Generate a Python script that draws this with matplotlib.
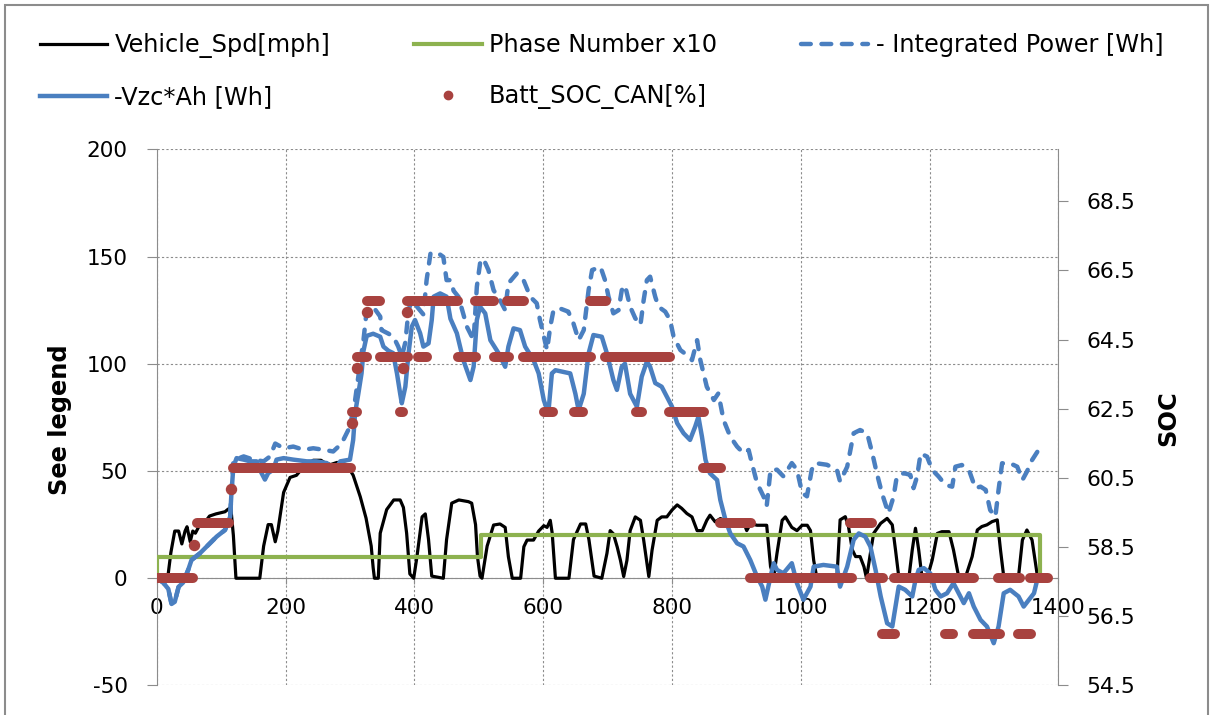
import matplotlib
matplotlib.use('Agg')
import matplotlib.pyplot as plt
from matplotlib.lines import Line2D
from matplotlib.patches import Rectangle

# Vehicle_Spd[mph]
spd_t = [0, 17, 22, 28, 34, 39, 44, 47, 52, 56, 60, 67, 77, 82, 92, 106, 110, 115, 119, 123,
         160, 166, 173, 178, 184, 188, 197, 207, 217, 228, 243, 255, 260, 270, 280, 295, 305,
         316, 325, 333, 336, 338, 344, 347, 357, 368, 378, 383, 388, 393, 399, 404, 412, 417,
         422, 427, 445, 450, 458, 469, 484, 489, 495, 498, 502, 505, 513, 523, 533, 541, 546,
         552, 565, 570, 575, 585, 593, 601, 606, 611, 614, 619, 640, 647, 658, 666, 671, 679,
         691, 699, 704, 709, 715, 720, 725, 730, 735, 743, 751, 756, 764, 769, 777, 784, 792,
         800, 808, 815, 823, 831, 839, 847, 854, 859, 867, 875, 883, 891, 901, 911, 916, 922,
         932, 947, 953, 958, 963, 971, 976, 986, 994, 1002, 1010, 1015, 1020, 1025, 1056, 1061,
         1069, 1074, 1080, 1085, 1092, 1098, 1102, 1108, 1113, 1124, 1134, 1142, 1147, 1152,
         1168, 1173, 1178, 1183, 1188, 1196, 1204, 1212, 1219, 1230, 1237, 1245, 1256, 1266,
         1274, 1281, 1289, 1297, 1305, 1310, 1315, 1338, 1344, 1351, 1359, 1367, 1371]
spd_v = [0, 0, 12, 22, 22, 16, 22, 24, 17, 22, 21, 25, 27, 29, 30, 31, 32, 33, 20, 0,
         0, 15, 25, 25, 17, 22, 40, 47, 48, 52, 55, 55, 54, 53, 54, 53, 48,
         38, 28, 15, 5, 0, 0, 21, 32, 36.5, 36.5, 33, 21, 2, 0, 10, 28.6, 30,
         18, 1, 0, 18, 35, 36.5, 35.7, 35, 25, 10, 1, 0, 15, 24.8, 25.3, 23.7, 10,
         0, 0, 14.7, 17.8, 17.8, 22, 24.5, 23.7, 27, 21, 0, 0, 18, 25.3, 25.3, 18, 1,
         0, 11.6, 22.2, 20.7, 14.5, 8.3, 0.8, 8.3, 22.2, 28.6, 27, 17.8, 0.8, 13, 27, 28.6, 28.6,
         31.8, 34.2, 32.6, 30.2, 28.6, 22.2, 22.2, 27, 29.4, 26.3, 27.8, 27, 26.3, 27, 26.3, 22.2, 25.5,
         24.7, 24.7, 5.4, 0.8, 11.6, 27, 28.6, 23.7, 22.2, 24.7, 24.7, 22.2, 8.3, 0, 0, 27.2,
         28.7, 24.1, 13.2, 10.1, 10.1, 5.4, 0, 11.6, 20.9, 25.6, 27.9, 24.9, 13.2, 0.8,
         0.8, 13.2, 23.3, 13.2, 0.8, 0, 8.5, 20.9, 21.7, 21.7, 13.2, 0.8, 0.8, 10.1,
         22.5, 24.1, 24.9, 26.4, 27.2, 13.2, 0.8, 0.8, 17.8, 22.5, 17.8, 1.6, 0]

# Phase Number x10
phase_t = [0, 1, 504, 1371]
phase_v = [0, 10, 20, 0]

# - Integrated Power [Wh]
ip_t = [0, 10, 18, 23, 28, 34, 41, 49, 54, 67, 80, 93, 106, 114, 116, 119, 135, 150, 166, 176,
        184, 197, 212, 228, 243, 259, 274, 287, 300, 308, 313, 321, 326, 336, 347, 349, 360,
        367.5, 375, 380.5, 386, 391, 396, 403, 414, 419, 425, 435, 445, 450, 456, 461, 468.5,
        481.5, 492, 497, 502, 507, 515, 523, 533, 541, 546, 559, 569.5, 580, 590, 595, 606,
        611, 616, 626, 639, 647, 655, 663, 670.5, 676, 689, 696, 701.5, 709, 717, 722, 727,
        735, 743, 751, 756, 761, 766, 774, 779, 789.5, 797, 802.5, 813, 823, 831, 839, 844,
        854, 865, 872, 880, 890.5, 901, 911, 919, 924, 932, 942, 947, 953, 963, 973, 986, 994,
        1002, 1009.5, 1017, 1022, 1040.5, 1056, 1061, 1072, 1082, 1092, 1103, 1111, 1118,
        1126, 1136, 1144, 1149, 1160, 1170, 1175, 1180.5, 1186, 1196, 1204, 1214, 1224.5,
        1235, 1240, 1250, 1261, 1271, 1279, 1287, 1294, 1302, 1307, 1312.5, 1325, 1336, 1344,
        1351, 1359, 1369]
ip_v = [0, -2, -5, -12, -11, -4, -2, 4, 8.5, 11.6, 15.5, 19.4, 22.5, 28.7, 39.6, 55, 56.8, 55.3, 54.5, 56.8,
        62.8, 60.6, 61.4, 59.9, 60.6, 59.9, 59.1, 62.8, 70.7, 83, 94, 111, 125, 126.6, 122, 115.7, 114,
        112.6, 108, 103.3, 110, 125, 129.6, 127, 123, 139, 151.3, 152, 149.8, 139, 139, 134, 131.2,
        117.3, 111, 135.9, 146.8, 149.1, 143.7, 134.3, 129.7, 125, 137.5, 142.1, 139, 131.2, 128.2, 120.4, 106.4,
        117.3, 125, 125.8, 124.3, 118.8, 111, 115.7, 134.3, 143.7, 145.2, 139, 131.2, 123.5, 125, 134.3, 136.6,
        126.6, 121.2, 118.1, 129.7, 139, 140.6, 131.2, 126.6, 124.3, 120.4, 112.6, 106.4, 104.1, 101.7, 111, 101.7,
        89.3, 83.1, 86.2, 73.8, 66, 61.4, 58.3, 59.8, 53.6, 44.4, 38.2, 33.6, 50.6, 50.6, 47.5, 53.7, 50.6,
        39.8, 38.2, 50.6, 53.7, 52.9, 50.6, 45, 52, 67.6, 69.1, 67.6, 58.2, 49,
        39.6, 30.3, 38, 47.4, 49, 48.2, 42, 47.4, 58.2, 56.7, 50.5, 47.4, 43.5,
        42.7, 52, 52.8, 50.5, 42, 42.7, 41.2, 31.8, 28.7, 41.2, 53.6, 53.6, 52, 45.8,
        49.7, 55.1, 59.8]

# -Vzc*Ah [Wh]
vzc_t = [0, 10, 18, 23, 28, 34, 41, 49, 54, 67, 80, 93, 106, 114, 116, 119, 124, 135, 145, 155,
         160, 168, 173, 181, 186, 197, 212, 233, 248, 264, 277, 285, 300, 305, 308, 313, 318,
         321, 326, 336, 347, 352, 360, 367, 373, 378, 380.5, 386, 391, 396, 401, 409, 414, 422,
         427, 430, 440, 450, 456, 466, 476, 487, 492, 497, 502, 510, 518, 531, 541, 546, 554,
         564, 572, 585, 593, 601, 608, 613.5, 619, 642, 650, 655, 663, 670.5, 678, 691, 699,
         709, 714.5, 722, 727, 735, 745.5, 753, 761, 766, 774, 784, 792, 800, 808, 818, 828,
         836, 841, 846.5, 852, 857, 859, 870, 875, 883, 890.5, 901, 911, 921.5, 932, 940, 945,
         953, 958, 963, 973, 986, 994, 1004, 1015, 1020, 1035, 1056, 1061, 1072, 1082, 1090,
         1100, 1108, 1116, 1124, 1134, 1142, 1147, 1152, 1162, 1173, 1178, 1183, 1191, 1201,
         1209, 1217, 1227, 1237, 1245, 1253, 1261, 1268.5, 1279, 1289, 1299.5, 1307, 1315,
         1325, 1338, 1346, 1354, 1362, 1367]
vzc_v = [0, -2, -5, -12, -11, -4, -2, 4, 8.5, 11.6, 15.5, 19.4, 22.5, 28.7, 39.6, 52, 56, 55.3, 54.5, 54.5,
         50.6, 46, 49, 50.6, 55.3, 56, 55.3, 54.5, 54.5, 53.7, 50.6, 54.5, 55.3, 64.5, 77, 86, 95.5,
         106, 113, 114, 112.6, 108, 106, 105, 95.5, 86, 81.6, 89.3, 105, 117.3, 120.4, 114.2, 108, 109.5,
         120.4, 131.3, 132.8, 131.3, 121, 114.2, 101.7, 92.4, 98.6, 120.4, 126.6, 123.5, 111, 104.8, 98.6, 108, 116.5,
         115.7, 108, 101.7, 95.5, 83, 77, 95.5, 97, 95.5, 86, 78.4, 86, 104.8, 113.4, 112.6, 104.8,
         92.4, 87.8, 98.6, 100, 86, 80, 94, 101, 98.6, 91, 89.3, 84.7, 80, 72.3, 67.6, 64.5,
         70.7, 75.3, 66, 55.2, 50.5, 48.9, 45.8, 36.5, 27.2, 20.9, 16.3, 14.8, 8.5, 0.8, -3.9, -10,
         0.8, 7, 3.9, 2.3, 7, -2.3, -10, -3.9, 5.4, 6.2, 5.4, -3.9, 5.4, 17.9, 20.9,
         19.4, 14.8, 3.9, -8.5, -21, -22.5, -13.2, -3.9, -5.4, -8.5, -0.8, 3.9, 4.7, 2.3,
         -5.4, -8.5, -7, -2.3, -7, -11.6, -7, -13.2, -19.4, -22.5, -30.3, -22.5, -7,
         -5.4, -8.5, -13.2, -10.1, -7, -0.8]

# Batt_SOC_CAN[%] - runs at one level (start, end, value)
soc_start = [0, 62, 119, 303, 310.6, 326.2, 346.8, 378, 388.3, 406.4, 468.5, 494.5, 522.9,
             544.5, 568.5, 600.5, 648.2, 673.1, 696.3, 744.4, 795.7, 848, 874, 920.5, 1077,
             1108, 1126.5, 1144.2, 1224.2, 1267.5, 1306.5, 1337.5, 1356.5]
soc_end = [56, 112, 301, 311, 326.2, 346.8, 390.9, 382, 468.5, 419.4, 496, 522.9, 547.2,
           570.5, 674.1, 615, 661.6, 697.8, 797.3, 753.8, 850.1, 876, 922.6, 1079.6, 1110,
           1128, 1146.5, 1269, 1236, 1309, 1340.5, 1357.5, 1383.5]
soc_level = [57.6, 59.2, 60.8, 62.4, 64.0, 65.6, 64.0, 62.4, 65.6, 64.0, 64.0, 65.6, 64.0,
             65.6, 64.0, 62.4, 62.4, 65.6, 64.0, 62.4, 62.4, 60.8, 59.2, 57.6, 59.2,
             57.6, 56.0, 57.6, 56.0, 56.0, 57.6, 56.0, 57.6]
# single samples between levels
soc_pt_t = [58.4, 115.4, 303.8, 310.6, 326, 383, 389.3]
soc_pt_v = [58.55, 60.17, 62.09, 63.68, 65.3, 63.68, 65.3]

c_spd = '#000000'
c_phase = '#8db24f'
c_blue = '#4a7fc0'
c_red = '#a8423f'
c_axis = '#8c8c8c'

plt.rcParams['font.family'] = 'DejaVu Sans'
plt.rcParams['axes.unicode_minus'] = False

fig = plt.figure(figsize=(12.13, 7.15), dpi=100)
ax = fig.add_axes([0.1292, 0.0413, 0.7434, 0.7499])
ax2 = ax.twinx()

ax.plot(spd_t, spd_v, color=c_spd, lw=2.3, zorder=3)
ax.step(phase_t, phase_v, where='post', color=c_phase, lw=3, zorder=3)
ax.plot(ip_t, ip_v, color=c_blue, lw=3.2, linestyle=(0, (2.2, 2.4)),
        dash_capstyle='round', zorder=4)
ax.plot(vzc_t, vzc_v, color=c_blue, lw=3.2, solid_joinstyle='round', zorder=5)

ax2.hlines(soc_level, soc_start, soc_end, colors=c_red, lw=7.2, capstyle='round')
ax2.plot(soc_pt_t, soc_pt_v, ls='none', marker='o', ms=7.2, color=c_red)

ax.set_xlim(0, 1400)
ax.set_ylim(-50, 200)
ax2.set_ylim(54.5, 70.0)
ax.set_xticks(range(0, 1401, 200))
ax.set_yticks(range(-50, 201, 50))
ax2.set_yticks([54.5, 56.5, 58.5, 60.5, 62.5, 64.5, 66.5, 68.5])
ax2.set_yticklabels(['54.5', '56.5', '58.5', '60.5', '62.5', '64.5', '66.5', '68.5'])

ax.grid(True, linestyle=(0, (2, 2)), color=c_axis, lw=0.8)
ax.set_axisbelow(True)

ax.spines['bottom'].set_position(('data', 0))
for s in ['top', 'right']:
    ax.spines[s].set_visible(False)
for s in ['left', 'bottom']:
    ax.spines[s].set_color(c_axis)
for s in ['top', 'left', 'bottom']:
    ax2.spines[s].set_visible(False)
ax2.spines['right'].set_color(c_axis)

ax.tick_params(axis='y', direction='out', length=7, color=c_axis, labelsize=15.5, pad=14)
ax.tick_params(axis='x', direction='out', length=4, color=c_axis, labelsize=15.5, pad=10)
ax2.tick_params(axis='y', direction='out', length=7, color=c_axis, labelsize=15.8, pad=13)

fig.text(60 / 1213, 1 - 420 / 715, 'See legend', rotation=90, fontsize=17.4,
         fontweight='bold', ha='center', va='center')
fig.text(1168 / 1213, 1 - 418 / 715, 'SOC', rotation=90, fontsize=17.4,
         fontweight='bold', ha='center', va='center')

handles = [
    Line2D([], [], color=c_spd, lw=2.3),
    Line2D([], [], color=c_blue, lw=3.2),
    Line2D([], [], color=c_phase, lw=3),
    Line2D([], [], ls='none', marker='o', ms=6, color=c_red),
    Line2D([], [], color=c_blue, lw=3.2, linestyle=(0, (2.2, 2.4)), dash_capstyle='round'),
]
labels = ['Vehicle_Spd[mph]', '-Vzc*Ah [Wh]', 'Phase Number x10', 'Batt_SOC_CAN[%]',
          '- Integrated Power [Wh]']
fig.legend(handles, labels, loc='upper left', bbox_to_anchor=(40 / 1213, 1 - 33 / 715),
           ncol=3, frameon=False, fontsize=17.3, handlelength=2.8, handletextpad=0.3,
           columnspacing=3.5, labelspacing=1.13, borderpad=0, borderaxespad=0)

fig.patches.append(Rectangle((5 / 1213, -0.02), 1203 / 1213, 1.02 - 5 / 715,
                             transform=fig.transFigure, fill=False,
                             edgecolor=c_axis, lw=1.5))

fig.savefig('out.png', dpi=100)
